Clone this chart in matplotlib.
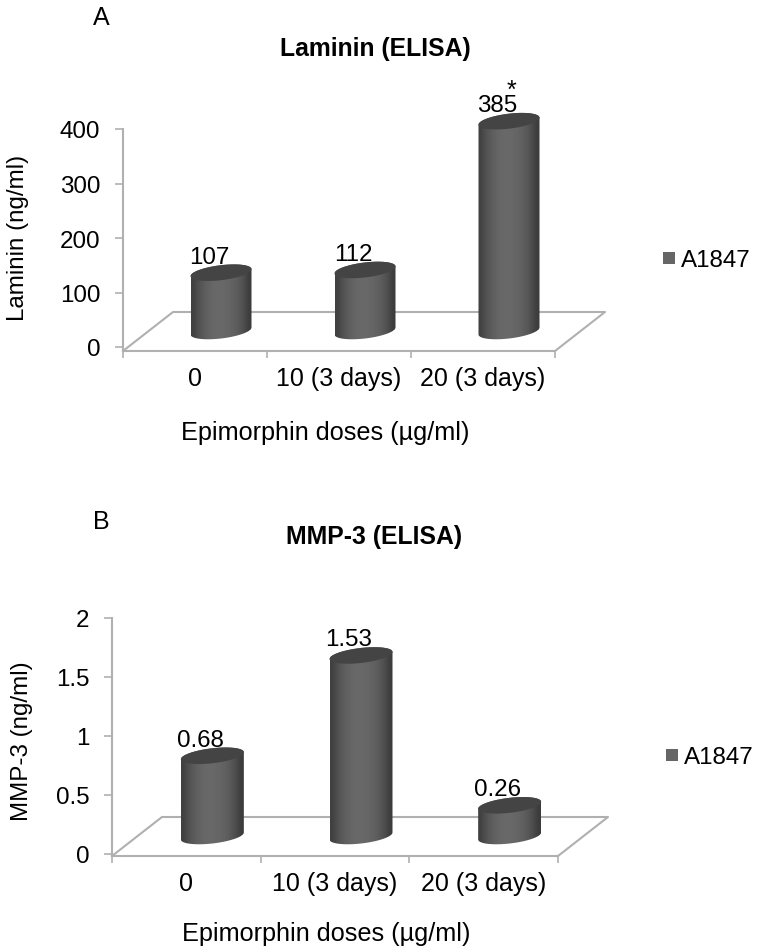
import numpy as np
import matplotlib
matplotlib.use('Agg')
import matplotlib.pyplot as plt
from matplotlib.lines import Line2D
from matplotlib.patches import PathPatch
from matplotlib.path import Path

plt.rcParams['font.family'] = ['Liberation Sans', 'DejaVu Sans']

categories = ['0', '10 (3 days)', '20 (3 days)']
laminin = [107, 112, 385]
laminin_labels = ['107', '112', '385']
laminin_ticks = [0, 100, 200, 300, 400]
laminin_ticklabels = ['0', '100', '200', '300', '400']
mmp3 = [0.68, 1.53, 0.26]
mmp3_labels = ['0.68', '1.53', '0.26']
mmp3_ticks = [0, 0.5, 1, 1.5, 2]
mmp3_ticklabels = ['0', '0.5', '1', '1.5', '2']

W, H = 760, 953
FS = 17.4
GREY = '#b0b0b0'
shade = np.array([.25, .31, .35, .38, .40, .41, .41, .40, .39, .37, .34, .29, .23])

fig = plt.figure(figsize=(W / 100, H / 100), dpi=100)


def panel(x0, x1, ytop, yzero, ybot, ymax, values, labels, ticks, ticklabels,
          title, title_xy, ylabel, ylabel_xy, xlabel, xlabel_xy, letter, letter_xy,
          legend_xy, bar_w, base_px):
    headroom = 45  # room above the top tick for the tall cylinder
    ax = fig.add_axes([x0 / W, 1 - ybot / H, (x1 - x0) / W, (ybot - ytop + headroom) / H])
    sy = (yzero - ytop) / ymax
    sx = (x1 - x0) / 3.0
    y0 = -(ybot - yzero) / sy
    y1 = ymax + headroom / sy

    for s in ['top', 'right']:
        ax.spines[s].set_visible(False)
    for s in ['left', 'bottom']:
        ax.spines[s].set_color(GREY)
        ax.spines[s].set_linewidth(1.5)
    ax.spines['left'].set_bounds(y0, ymax)
    ax.set_yticks(ticks)
    ax.set_yticklabels(ticklabels, fontsize=FS, va='center_baseline')
    ax.tick_params(axis='y', length=5.8, width=1.2, color=GREY, pad=10.5)
    ax.set_xticks([0, 1, 2])
    ax.set_xticklabels(categories, fontsize=18)
    ax.set_xticks([-0.5, 0.5, 1.5, 2.5], minor=True)
    ax.tick_params(axis='x', which='major', length=0, pad=10.8)
    ax.tick_params(axis='x', which='minor', length=5, width=1.2, color=GREY)

    # floor of the 3d box
    dx, dy = 50 / sx, 39 / sy
    ax.plot([-0.5, -0.5 + dx, 2.5 + dx, 2.5], [y0, y0 + dy, y0 + dy, y0],
            color=GREY, lw=1.5, clip_on=False, zorder=1)

    # cylinders
    t = np.linspace(0, np.pi, 50)
    a, b, k = bar_w / 2.0, 7.5, 3.5
    off_x, off_y = 26 / sx, base_px / sy
    for i, v in enumerate(values):
        cx = i + off_x
        top = v + off_y
        upper_x = cx + a * np.cos(t) / sx
        upper_d = (b * np.sin(t) + k * np.cos(t)) / sy
        lower_x = upper_x[::-1]
        lower_d = (-b * np.sin(t[::-1]) + k * np.cos(t[::-1])) / sy

        bx = np.r_[lower_x, upper_x]
        by = np.r_[off_y + lower_d, top + upper_d]
        body = PathPatch(Path(np.c_[bx, by]), transform=ax.transData, fc='none', ec='none')
        ax.add_patch(body)
        im = ax.imshow(shade[None, :], cmap='gray', vmin=0, vmax=1, aspect='auto',
                       interpolation='bicubic', zorder=3,
                       extent=[cx - a / sx, cx + a / sx, off_y - 10 / sy, top + 10 / sy])
        im.set_clip_path(body)

        ex = np.r_[upper_x, lower_x]
        ey = np.r_[top + upper_d, top + lower_d]
        ax.fill(ex, ey, color='#444444', lw=0, zorder=4, clip_on=False)

        ax.annotate(labels[i], (cx, top), xytext=(-12 * 0.72, 16 * 0.72),
                    textcoords='offset points', ha='center', va='center',
                    fontsize=FS, color='black', zorder=5, annotation_clip=False)

    ax.set_xlim(-0.5, 2.5)
    ax.set_ylim(y0, y1)

    tr = fig.transFigure
    ax.set_ylabel(ylabel, fontsize=FS, va='center')
    ax.yaxis.set_label_coords(ylabel_xy[0] / W, 1 - ylabel_xy[1] / H, transform=tr)
    ax.set_xlabel(xlabel, fontsize=18.2, va='center')
    ax.xaxis.set_label_coords(xlabel_xy[0] / W, 1 - xlabel_xy[1] / H, transform=tr)
    fig.text(title_xy[0] / W, 1 - title_xy[1] / H, title, fontsize=17.8, fontweight='bold',
             ha='center', va='center')
    fig.text(letter_xy[0] / W, 1 - letter_xy[1] / H, letter, fontsize=18,
             ha='center', va='center')

    handle = Line2D([], [], ls='none', marker='s', ms=8.4, color='#666666', mew=0)
    ax.legend(handles=[handle], labels=['A1847'], frameon=False, fontsize=FS,
              loc='center left', bbox_to_anchor=(legend_xy[0] / W, 1 - legend_xy[1] / H),
              bbox_transform=tr, borderaxespad=0, borderpad=0, handlelength=0.6,
              handletextpad=0.2)
    return ax


panel(123, 555, 130, 348, 352, 400, laminin, laminin_labels, laminin_ticks, laminin_ticklabels,
      'Laminin (ELISA)', (375, 49), 'Laminin (ng/ml)', (18, 238),
      'Epimorphin doses (µg/ml)', (325, 433), 'A', (101, 18), (662, 261), 61, 16)
panel(112, 558, 619, 855, 857, 2, mmp3, mmp3_labels, mmp3_ticks, mmp3_ticklabels,
      'MMP-3 (ELISA)', (374, 537), 'MMP-3 (ng/ml)', (22, 741),
      'Epimorphin doses (µg/ml)', (326, 934), 'B', (101, 522), (665, 758), 63, 18)

fig.text(511 / W, 1 - 91 / H, '*', fontsize=18, ha='center', va='center')

fig.savefig('out.png', dpi=100)
